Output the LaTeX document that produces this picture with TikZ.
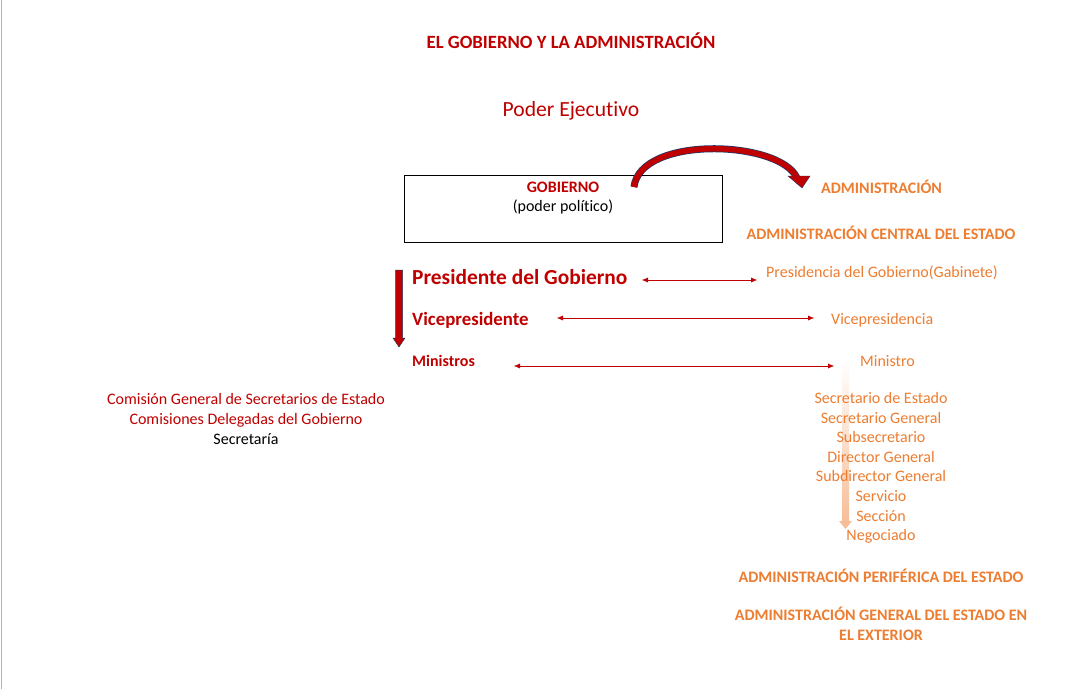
\documentclass[tikz,border=0pt]{standalone}
\usepackage{fontspec}
\setmainfont[Ligatures=NoCommon]{Carlito}
\usetikzlibrary{arrows.meta,shadings}
\definecolor{dred}{HTML}{C00000}
\definecolor{orng}{HTML}{ED7D31}
\definecolor{oline}{HTML}{1F3864}
\begin{document}
\begin{tikzpicture}[x=1pt,y=-1pt,
  t/.style={font=\fontsize{16}{19.6}\selectfont,inner sep=0pt},
  tb/.style={t,font=\fontsize{16}{19.6}\selectfont\bfseries},
  big/.style={inner sep=0pt,font=\fontsize{21.4}{24}\selectfont\bfseries,text=dred},
  link/.style={dred,{Latex[length=6pt,width=5pt]}-{Latex[length=6pt,width=5pt]}}]
\useasboundingbox (0,0) rectangle (1083,689);
\fill[white] (0,0) rectangle (1083,689);
\draw[gray!60] (1,0) -- (1,689);
\node[tb,text=dred,font=\fontsize{18.7}{22}\selectfont\bfseries] (title) at (571,41) {EL GOBIERNO Y LA ADMINISTRACIÓN};
\node[inner sep=0pt,font=\fontsize{21.6}{24}\selectfont,text=dred] (poder) at (571,111) {Poder Ejecutivo};
\node[draw,thick,minimum width=318,minimum height=67,inner sep=0pt] (gob) at (563,208.5) {};
\node[tb,text=dred] (gobt) at (563,187) {GOBIERNO};
\node[t] (pp) at (563,207) {(poder político)};
\node[tb,text=orng,anchor=west] (adm) at (821,187) {ADMINISTRACIÓN};
\coordinate (cs) at (634,187);
\coordinate (ce) at (802,188);
\draw[oline,line width=7pt] (cs) .. controls (640,135) and (780,140) .. (797,178);
\draw[dred,line width=5.5pt] (cs) .. controls (640,135) and (780,140) .. (797,178);
\fill[dred,draw=oline] (788,176) -- (810,176) -- (ce) -- cycle;
\node[tb,text=orng] (ace) at (881,233) {ADMINISTRACIÓN CENTRAL DEL ESTADO};
\node[big,anchor=west] (pres) at (412,277) {Presidente del Gobierno};
\node[big,anchor=west,font=\fontsize{18.8}{22}\selectfont\bfseries] (vice) at (412,320) {Vicepresidente};
\node[tb,text=dred,anchor=west] (min) at (412,361) {Ministros};
\node[t,text=orng,anchor=west] (presd) at (766,273) {Presidencia del Gobierno(Gabinete)};
\node[t,text=orng,anchor=west] (viced) at (831,320) {Vicepresidencia};
\node[t,text=orng,anchor=west] (mind) at (860,361) {Ministro};
\coordinate (a1) at (642,280); \coordinate (b1) at (757,280);
\coordinate (a2) at (557,318); \coordinate (b2) at (814,318);
\coordinate (a3) at (514,366); \coordinate (b3) at (834,366);
\draw[link] (a1) -- (b1);
\draw[link] (a2) -- (b2);
\draw[link] (a3) -- (b3);
\coordinate (v2) at (399,347);
\fill[dred,draw=oline,line width=0.5pt] (395.5,270) -- (402.5,270) -- (402.5,338) -- (405,338) -- (v2) -- (393,338) -- (395.5,338) -- cycle;
\shade[top color=white,bottom color=orng!50] (842,360) rectangle (849,521);
\fill[orng!50] (839,521) -- (852,521) -- (845.5,529) -- cycle;
\node[t,text=orng,align=center] (list) at (881,468) {Secretario de Estado\\Secretario General\\Subsecretario\\Director General\\Subdirector General\\Servicio\\Sección\\Negociado};
\node[t,align=center] (com) at (246,419) {\textcolor{dred}{Comisión General de Secretarios de Estado}\\\textcolor{dred}{Comisiones Delegadas del Gobierno}\\Secretaría};
\node[tb,text=orng] (per) at (881,576) {ADMINISTRACIÓN PERIFÉRICA DEL ESTADO};
\node[tb,text=orng,align=center] (ext) at (881,624) {ADMINISTRACIÓN GENERAL DEL ESTADO EN\\EL EXTERIOR};
\end{tikzpicture}
\end{document}
